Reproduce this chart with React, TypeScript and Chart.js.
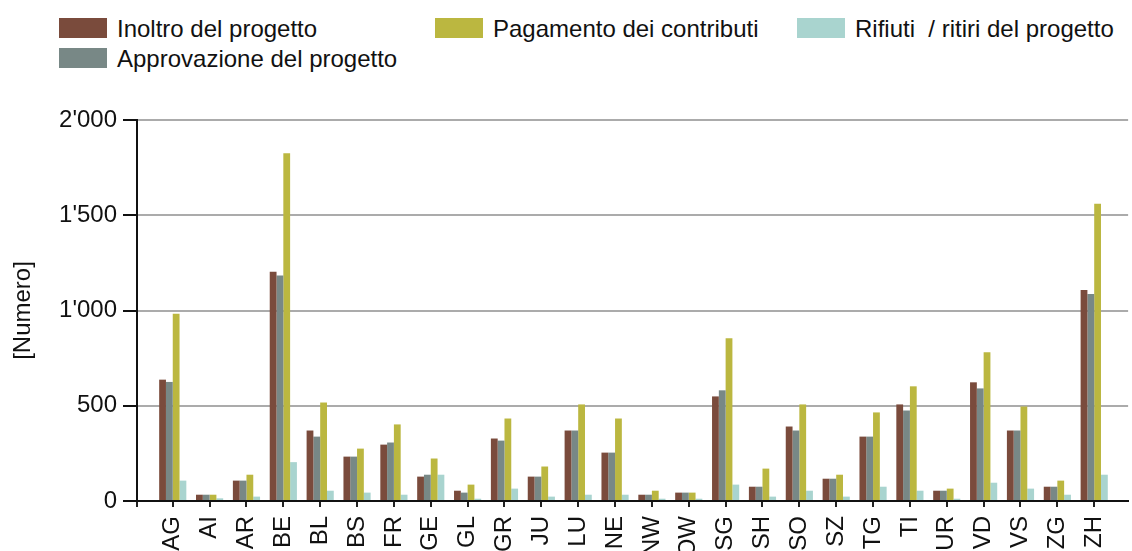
import React, { useEffect, useRef } from "react";
import { Chart, registerables } from "chart.js";

Chart.register(...registerables);

const cantons = ["AG","AI","AR","BE","BL","BS","FR","GE","GL","GR","JU","LU","NE","NW","OW","SG","SH","SO","SZ","TG","TI","UR","VD","VS","ZG","ZH"];
const inoltro = [637, 33, 107, 1204, 370, 233, 296, 128, 54, 328, 128, 370, 254, 33, 44, 549, 75, 391, 117, 338, 507, 54, 623, 370, 75, 1107];
const approvazione = [625, 33, 107, 1184, 338, 233, 307, 138, 44, 317, 128, 370, 254, 33, 44, 581, 75, 370, 117, 338, 475, 54, 591, 370, 75, 1086];
const pagamento = [983, 33, 138, 1825, 517, 275, 402, 223, 86, 433, 181, 507, 433, 54, 44, 854, 170, 507, 138, 465, 602, 65, 781, 496, 107, 1560];
const rifiuti = [107, 14, 23, 204, 54, 44, 33, 138, 12, 65, 23, 33, 33, 12, 12, 86, 23, 54, 23, 75, 54, 12, 96, 65, 33, 138];

const seriesNames = ["Inoltro del progetto", "Approvazione del progetto", "Pagamento dei contributi", "Rifiuti  / ritiri del progetto"];
const seriesColors = ["#7A4B3C", "#788886", "#BBB740", "#A9D4CF"];
const yTicks = [0, 500, 1000, 1500, 2000];
const yTitle = "[Numero]";

const FONT_FAMILY = '"Liberation Sans", Arial, sans-serif';
const TEXT = "#111";

// legend layout (style only): [left, top] of each item
const legendPos: [number, number][] = [[59, 14], [59, 44], [435, 14], [797, 14]];

function fmt(v: number): string {
  return String(v).replace(/\B(?=(\d{3})+(?!\d))/g, "'");
}

export default function App() {
  const ref = useRef<HTMLCanvasElement | null>(null);

  useEffect(() => {
    const canvas = ref.current;
    if (!canvas) return;
    const font = { family: FONT_FAMILY, size: 24 };
    const values = [inoltro, approvazione, pagamento, rifiuti];
    const chart = new Chart(canvas, {
      type: "bar",
      data: {
        datasets: values.map((arr, k) => ({
          label: seriesNames[k],
          data: arr.map((v, i) => ({ x: i, y: v })),
          backgroundColor: seriesColors[k],
          borderWidth: 0,
          categoryPercentage: 0.76,
          barPercentage: 1,
        })),
      },
      options: {
        responsive: false,
        animation: false,
        devicePixelRatio: 1,
        layout: { padding: { top: 120, left: 0, right: 0, bottom: 0 } },
        plugins: { legend: { display: false }, tooltip: { enabled: false } },
        scales: {
          x: {
            type: "linear",
            min: -0.97,
            max: 25.92,
            offset: false,
            grid: { offset: false, drawOnChartArea: false, drawTicks: true, tickLength: 6, color: "#222", lineWidth: 2 },
            border: { display: true, color: "#111", width: 2 },
            ticks: {
              autoSkip: false,
              minRotation: 90,
              maxRotation: 90,
              padding: 9,
              font,
              color: TEXT,
              callback: (v: any) => (Number.isInteger(v) && cantons[v] !== undefined ? cantons[v] : ""),
            },
            afterBuildTicks: (s: any) => {
              s.ticks = [{ value: -0.97 }, ...cantons.map((_, i) => ({ value: i }))];
            },
            afterFit: (s: any) => {
              s.height = 99;
            },
          },
          y: {
            min: 0,
            max: 2000,
            ticks: { stepSize: 500, padding: 6, font, color: TEXT, callback: (v: any) => fmt(v) },
            afterBuildTicks: (s: any) => {
              s.ticks = yTicks.map((v) => ({ value: v }));
            },
            grid: {
              color: (ctx: any) => (ctx.tick && ctx.tick.value === 0 ? "#111" : "#ababab"),
              lineWidth: 2,
              tickColor: "#111",
              tickLength: 14,
            },
            border: { color: "#111", width: 2 },
            title: { display: true, text: yTitle, font, color: TEXT, padding: { top: 9, bottom: 0 } },
            afterFit: (s: any) => {
              s.width = 137;
            },
          },
        },
      },
    } as any);
    return () => chart.destroy();
  }, []);

  return (
    <div style={{ position: "absolute", left: 0, top: 0, width: 1132, height: 600, background: "#fff", overflow: "hidden" }}>
      {seriesNames.map((name, k) => (
        <div
          key={name}
          style={{
            position: "absolute",
            left: legendPos[k][0],
            top: legendPos[k][1],
            height: 30,
            display: "flex",
            alignItems: "flex-start",
            fontFamily: FONT_FAMILY,
            fontSize: 24,
            lineHeight: "30px",
            color: TEXT,
            whiteSpace: "pre",
          }}
        >
          <span style={{ display: "inline-block", width: 48, height: 20, marginTop: 4, background: seriesColors[k] }} />
          <span style={{ marginLeft: 10 }}>{name}</span>
        </div>
      ))}
      <canvas ref={ref} width={1132} height={600} style={{ position: "absolute", left: 0, top: 0, display: "block" }} />
    </div>
  );
}
